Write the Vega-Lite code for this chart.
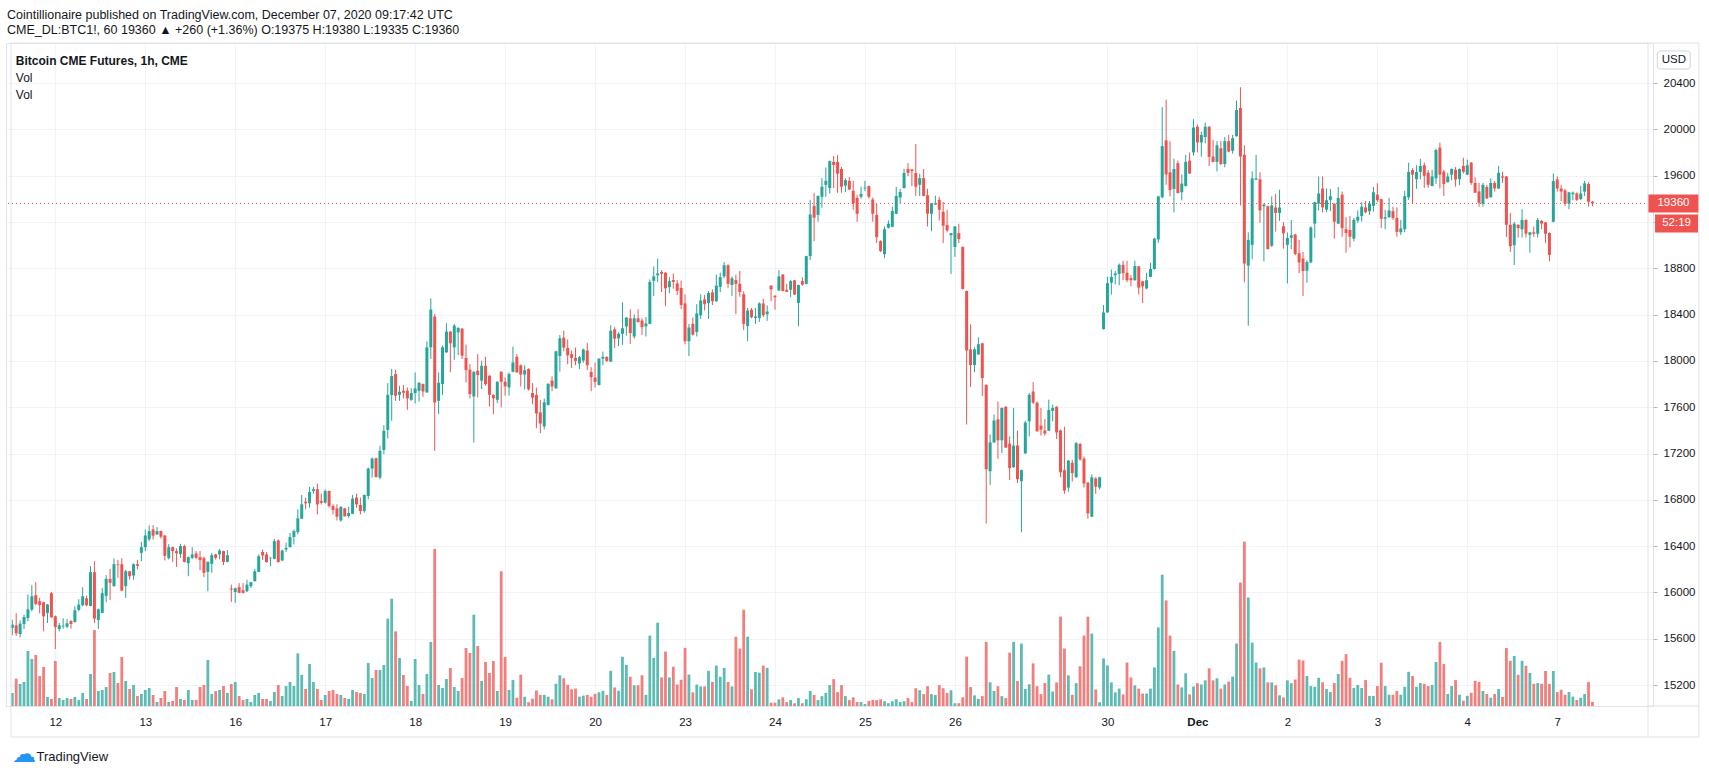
{
"$schema":"https://vega.github.io/schema/vega-lite/v6.json",
"width":1647,"height":663,
"autosize":{"type":"none"},
"padding":{"left":6,"top":43,"right":56,"bottom":65},
"background":"white",
"config":{"view":{"stroke":"#e0e3eb","strokeWidth":1},"font":"Liberation Sans"},
"title":{"text":"Cointillionaire published on TradingView.com, December 07, 2020 09:17:42 UTC","subtitle":"CME_DL:BTC1!, 60  19360 ▲ +260 (+1.36%)  O:19375  H:19380  L:19335  C:19360","anchor":"start","frame":"group","orient":"top","offset":6,"font":"Liberation Sans","fontSize":12.5,"fontWeight":"normal","color":"#131722","subtitleFont":"Liberation Sans","subtitleFontSize":12.5,"subtitleColor":"#131722","subtitlePadding":3,"dx":1},
"data":{"values":[
{"i":0,"o":15693,"h":15765,"l":15630,"c":15722,"v":195},
{"i":1,"o":15716,"h":15820,"l":15624,"c":15647,"v":410},
{"i":2,"o":15641,"h":15759,"l":15612,"c":15730,"v":330},
{"i":3,"o":15727,"h":15808,"l":15684,"c":15788,"v":360},
{"i":4,"o":15779,"h":15982,"l":15751,"c":15854,"v":825},
{"i":5,"o":15852,"h":16062,"l":15837,"c":15967,"v":705},
{"i":6,"o":15976,"h":16088,"l":15889,"c":15901,"v":765},
{"i":7,"o":15924,"h":15953,"l":15820,"c":15892,"v":450},
{"i":8,"o":15915,"h":15920,"l":15664,"c":15794,"v":585},
{"i":9,"o":15823,"h":15900,"l":15736,"c":15895,"v":135},
{"i":10,"o":15993,"h":16005,"l":15780,"c":15785,"v":105},
{"i":11,"o":15794,"h":15800,"l":15511,"c":15702,"v":675},
{"i":12,"o":15684,"h":15736,"l":15664,"c":15716,"v":120},
{"i":13,"o":15707,"h":15777,"l":15687,"c":15713,"v":90},
{"i":14,"o":15704,"h":15771,"l":15693,"c":15733,"v":120},
{"i":15,"o":15754,"h":15759,"l":15687,"c":15727,"v":105},
{"i":16,"o":15745,"h":15880,"l":15740,"c":15846,"v":135},
{"i":17,"o":15849,"h":15941,"l":15837,"c":15895,"v":90},
{"i":18,"o":15889,"h":16045,"l":15880,"c":15967,"v":195},
{"i":19,"o":15950,"h":15973,"l":15880,"c":15889,"v":105},
{"i":20,"o":15883,"h":16227,"l":15880,"c":16175,"v":480},
{"i":21,"o":16175,"h":16270,"l":15736,"c":15774,"v":1140},
{"i":22,"o":15762,"h":15860,"l":15684,"c":15854,"v":225},
{"i":23,"o":15823,"h":16039,"l":15820,"c":15993,"v":240},
{"i":24,"o":15970,"h":16149,"l":15915,"c":16117,"v":285},
{"i":25,"o":16117,"h":16204,"l":15935,"c":16083,"v":495},
{"i":26,"o":16054,"h":16293,"l":16050,"c":16244,"v":510},
{"i":27,"o":16244,"h":16282,"l":16126,"c":16238,"v":345},
{"i":28,"o":16244,"h":16296,"l":16010,"c":16016,"v":735},
{"i":29,"o":16054,"h":16195,"l":15953,"c":16183,"v":375},
{"i":30,"o":16183,"h":16186,"l":16111,"c":16140,"v":255},
{"i":31,"o":16146,"h":16250,"l":16109,"c":16244,"v":315},
{"i":32,"o":16244,"h":16282,"l":16198,"c":16230,"v":150},
{"i":33,"o":16342,"h":16437,"l":16270,"c":16391,"v":180},
{"i":34,"o":16391,"h":16544,"l":16357,"c":16492,"v":240},
{"i":35,"o":16458,"h":16579,"l":16443,"c":16530,"v":270},
{"i":36,"o":16544,"h":16582,"l":16458,"c":16490,"v":165},
{"i":37,"o":16501,"h":16565,"l":16498,"c":16530,"v":60},
{"i":38,"o":16530,"h":16535,"l":16464,"c":16481,"v":120},
{"i":39,"o":16492,"h":16495,"l":16276,"c":16316,"v":225},
{"i":40,"o":16296,"h":16417,"l":16285,"c":16391,"v":60},
{"i":41,"o":16391,"h":16395,"l":16264,"c":16357,"v":75},
{"i":42,"o":16357,"h":16380,"l":16221,"c":16339,"v":285},
{"i":43,"o":16331,"h":16420,"l":16299,"c":16400,"v":105},
{"i":44,"o":16400,"h":16412,"l":16258,"c":16264,"v":90},
{"i":45,"o":16253,"h":16310,"l":16140,"c":16305,"v":240},
{"i":46,"o":16299,"h":16391,"l":16287,"c":16328,"v":90},
{"i":47,"o":16336,"h":16357,"l":16287,"c":16299,"v":90},
{"i":48,"o":16305,"h":16357,"l":16192,"c":16279,"v":285},
{"i":49,"o":16296,"h":16310,"l":16132,"c":16169,"v":315},
{"i":50,"o":16178,"h":16268,"l":16010,"c":16264,"v":690},
{"i":51,"o":16247,"h":16342,"l":16169,"c":16322,"v":180},
{"i":52,"o":16328,"h":16334,"l":16284,"c":16299,"v":225},
{"i":53,"o":16328,"h":16374,"l":16287,"c":16362,"v":240},
{"i":54,"o":16357,"h":16360,"l":16236,"c":16264,"v":300},
{"i":55,"o":16264,"h":16365,"l":16260,"c":16322,"v":195},
{"i":56,"o":16033,"h":16068,"l":15918,"c":16025,"v":330},
{"i":57,"o":16004,"h":16040,"l":15909,"c":16036,"v":360},
{"i":58,"o":16045,"h":16080,"l":15993,"c":15996,"v":150},
{"i":59,"o":16019,"h":16080,"l":15990,"c":15996,"v":90},
{"i":60,"o":16010,"h":16109,"l":16004,"c":16068,"v":105},
{"i":61,"o":16054,"h":16092,"l":16039,"c":16088,"v":60},
{"i":62,"o":16097,"h":16204,"l":16094,"c":16183,"v":165},
{"i":63,"o":16178,"h":16328,"l":16175,"c":16313,"v":195},
{"i":64,"o":16350,"h":16370,"l":16280,"c":16320,"v":105},
{"i":65,"o":16328,"h":16348,"l":16258,"c":16262,"v":105},
{"i":66,"o":16295,"h":16304,"l":16227,"c":16300,"v":75},
{"i":67,"o":16290,"h":16463,"l":16286,"c":16443,"v":210},
{"i":68,"o":16449,"h":16458,"l":16258,"c":16262,"v":315},
{"i":69,"o":16276,"h":16371,"l":16270,"c":16362,"v":150},
{"i":70,"o":16371,"h":16429,"l":16348,"c":16385,"v":300},
{"i":71,"o":16391,"h":16515,"l":16388,"c":16478,"v":360},
{"i":72,"o":16478,"h":16544,"l":16414,"c":16530,"v":300},
{"i":73,"o":16521,"h":16718,"l":16501,"c":16640,"v":790},
{"i":74,"o":16637,"h":16842,"l":16634,"c":16761,"v":465},
{"i":75,"o":16784,"h":16819,"l":16718,"c":16770,"v":255},
{"i":76,"o":16770,"h":16911,"l":16732,"c":16868,"v":630},
{"i":77,"o":16876,"h":16911,"l":16853,"c":16891,"v":360},
{"i":78,"o":16891,"h":16940,"l":16674,"c":16761,"v":255},
{"i":79,"o":16790,"h":16853,"l":16761,"c":16775,"v":90},
{"i":80,"o":16775,"h":16891,"l":16767,"c":16876,"v":165},
{"i":81,"o":16876,"h":16880,"l":16732,"c":16746,"v":225},
{"i":82,"o":16746,"h":16761,"l":16674,"c":16712,"v":240},
{"i":83,"o":16726,"h":16761,"l":16622,"c":16654,"v":180},
{"i":84,"o":16622,"h":16747,"l":16611,"c":16738,"v":165},
{"i":85,"o":16726,"h":16730,"l":16654,"c":16658,"v":120},
{"i":86,"o":16660,"h":16738,"l":16645,"c":16686,"v":105},
{"i":87,"o":16680,"h":16842,"l":16676,"c":16810,"v":240},
{"i":88,"o":16819,"h":16853,"l":16732,"c":16761,"v":210},
{"i":89,"o":16755,"h":16819,"l":16674,"c":16703,"v":195},
{"i":90,"o":16703,"h":16845,"l":16689,"c":16842,"v":180},
{"i":91,"o":16833,"h":17078,"l":16804,"c":17070,"v":645},
{"i":92,"o":17070,"h":17165,"l":16992,"c":17156,"v":420},
{"i":93,"o":17159,"h":17165,"l":16992,"c":16997,"v":540},
{"i":94,"o":16992,"h":17266,"l":16977,"c":17223,"v":540},
{"i":95,"o":17231,"h":17445,"l":17194,"c":17396,"v":615},
{"i":96,"o":17404,"h":17808,"l":17329,"c":17707,"v":1310},
{"i":97,"o":17705,"h":17930,"l":17482,"c":17869,"v":1610},
{"i":98,"o":17886,"h":17924,"l":17655,"c":17699,"v":1120},
{"i":99,"o":17707,"h":17785,"l":17655,"c":17733,"v":720},
{"i":100,"o":17742,"h":17791,"l":17676,"c":17725,"v":465},
{"i":101,"o":17742,"h":17771,"l":17578,"c":17676,"v":300},
{"i":102,"o":17664,"h":17765,"l":17655,"c":17722,"v":75},
{"i":103,"o":17722,"h":17901,"l":17632,"c":17762,"v":705},
{"i":104,"o":17742,"h":17815,"l":17647,"c":17811,"v":315},
{"i":105,"o":17800,"h":17805,"l":17690,"c":17736,"v":180},
{"i":106,"o":17728,"h":18169,"l":17725,"c":18117,"v":480},
{"i":107,"o":18117,"h":18539,"l":18016,"c":18443,"v":960},
{"i":108,"o":18383,"h":18406,"l":17223,"c":17641,"v":2355},
{"i":109,"o":17655,"h":17901,"l":17540,"c":17811,"v":315},
{"i":110,"o":17800,"h":18132,"l":17705,"c":18117,"v":270},
{"i":111,"o":18074,"h":18325,"l":18070,"c":18253,"v":405},
{"i":112,"o":18253,"h":18258,"l":17901,"c":18152,"v":570},
{"i":113,"o":18117,"h":18319,"l":18010,"c":18305,"v":285},
{"i":114,"o":18247,"h":18290,"l":18051,"c":18285,"v":225},
{"i":115,"o":18279,"h":18283,"l":18016,"c":18045,"v":420},
{"i":116,"o":18025,"h":18140,"l":17814,"c":17921,"v":870},
{"i":117,"o":17924,"h":17973,"l":17676,"c":17713,"v":795},
{"i":118,"o":17693,"h":17910,"l":17295,"c":17906,"v":1370},
{"i":119,"o":17915,"h":18059,"l":17684,"c":17878,"v":900},
{"i":120,"o":17829,"h":18002,"l":17756,"c":17958,"v":375},
{"i":121,"o":17958,"h":18036,"l":17785,"c":17800,"v":660},
{"i":122,"o":17872,"h":17876,"l":17606,"c":17707,"v":495},
{"i":123,"o":17707,"h":17711,"l":17540,"c":17676,"v":675},
{"i":124,"o":17664,"h":17824,"l":17635,"c":17820,"v":225},
{"i":125,"o":17906,"h":17910,"l":17598,"c":17820,"v":2020},
{"i":126,"o":17820,"h":17857,"l":17700,"c":17780,"v":735},
{"i":127,"o":17771,"h":17901,"l":17699,"c":17886,"v":240},
{"i":128,"o":17906,"h":18123,"l":17902,"c":17987,"v":390},
{"i":129,"o":18036,"h":18059,"l":17898,"c":17901,"v":125},
{"i":130,"o":17962,"h":17970,"l":17779,"c":17882,"v":470},
{"i":131,"o":17882,"h":17962,"l":17754,"c":17920,"v":139},
{"i":132,"o":17930,"h":17936,"l":17744,"c":17754,"v":56},
{"i":133,"o":17722,"h":17808,"l":17625,"c":17683,"v":111},
{"i":134,"o":17706,"h":17770,"l":17418,"c":17546,"v":233},
{"i":135,"o":17555,"h":17664,"l":17376,"c":17459,"v":167},
{"i":136,"o":17434,"h":17674,"l":17408,"c":17642,"v":167},
{"i":137,"o":17619,"h":17806,"l":17615,"c":17802,"v":139},
{"i":138,"o":17830,"h":17866,"l":17738,"c":17779,"v":100},
{"i":139,"o":17763,"h":18087,"l":17759,"c":18083,"v":333},
{"i":140,"o":18042,"h":18224,"l":17907,"c":18195,"v":461},
{"i":141,"o":18201,"h":18262,"l":18083,"c":18115,"v":417},
{"i":142,"o":18112,"h":18186,"l":17971,"c":18048,"v":317},
{"i":143,"o":18058,"h":18090,"l":17939,"c":18026,"v":250},
{"i":144,"o":18026,"h":18115,"l":17962,"c":18000,"v":261},
{"i":145,"o":17978,"h":18042,"l":17930,"c":18032,"v":139},
{"i":146,"o":18003,"h":18106,"l":17984,"c":18099,"v":156},
{"i":147,"o":18090,"h":18154,"l":17920,"c":17962,"v":167},
{"i":148,"o":17904,"h":17946,"l":17738,"c":17859,"v":139},
{"i":149,"o":17856,"h":17984,"l":17770,"c":17818,"v":183},
{"i":150,"o":17792,"h":18023,"l":17788,"c":18019,"v":206},
{"i":151,"o":18019,"h":18080,"l":17962,"c":18035,"v":228},
{"i":152,"o":18035,"h":18039,"l":17990,"c":18000,"v":167},
{"i":153,"o":17994,"h":18308,"l":17990,"c":18260,"v":528},
{"i":154,"o":18272,"h":18291,"l":18112,"c":18192,"v":278},
{"i":155,"o":18195,"h":18246,"l":18128,"c":18234,"v":228},
{"i":156,"o":18234,"h":18506,"l":18138,"c":18282,"v":739},
{"i":157,"o":18298,"h":18378,"l":18218,"c":18374,"v":617},
{"i":158,"o":18368,"h":18445,"l":18147,"c":18240,"v":439},
{"i":159,"o":18211,"h":18403,"l":18192,"c":18368,"v":311},
{"i":160,"o":18368,"h":18445,"l":18330,"c":18336,"v":311},
{"i":161,"o":18349,"h":18368,"l":18224,"c":18291,"v":461},
{"i":162,"o":18298,"h":18378,"l":18211,"c":18323,"v":167},
{"i":163,"o":18320,"h":18704,"l":18316,"c":18682,"v":1056},
{"i":164,"o":18692,"h":18816,"l":18560,"c":18730,"v":722},
{"i":165,"o":18739,"h":18883,"l":18682,"c":18755,"v":1250},
{"i":166,"o":18768,"h":18784,"l":18595,"c":18752,"v":428},
{"i":167,"o":18762,"h":18766,"l":18474,"c":18627,"v":817},
{"i":168,"o":18637,"h":18723,"l":18585,"c":18688,"v":428},
{"i":169,"o":18698,"h":18755,"l":18624,"c":18682,"v":589},
{"i":170,"o":18669,"h":18698,"l":18570,"c":18605,"v":322},
{"i":171,"o":18630,"h":18694,"l":18448,"c":18483,"v":394},
{"i":172,"o":18496,"h":18573,"l":18144,"c":18170,"v":872},
{"i":173,"o":18170,"h":18320,"l":18042,"c":18288,"v":472},
{"i":174,"o":18320,"h":18374,"l":18218,"c":18227,"v":206},
{"i":175,"o":18250,"h":18490,"l":18211,"c":18410,"v":322},
{"i":176,"o":18394,"h":18576,"l":18362,"c":18522,"v":294},
{"i":177,"o":18531,"h":18570,"l":18435,"c":18490,"v":294},
{"i":178,"o":18499,"h":18602,"l":18362,"c":18586,"v":528},
{"i":179,"o":18592,"h":18618,"l":18483,"c":18515,"v":361},
{"i":180,"o":18515,"h":18746,"l":18511,"c":18650,"v":606},
{"i":181,"o":18640,"h":18762,"l":18595,"c":18723,"v":439},
{"i":182,"o":18730,"h":18854,"l":18714,"c":18826,"v":572},
{"i":183,"o":18826,"h":18835,"l":18627,"c":18666,"v":361},
{"i":184,"o":18656,"h":18730,"l":18560,"c":18714,"v":294},
{"i":185,"o":18698,"h":18746,"l":18403,"c":18666,"v":1039},
{"i":186,"o":18666,"h":18778,"l":18554,"c":18595,"v":861},
{"i":187,"o":18576,"h":18602,"l":18266,"c":18320,"v":1444},
{"i":188,"o":18301,"h":18458,"l":18170,"c":18435,"v":1039},
{"i":189,"o":18442,"h":18458,"l":18368,"c":18378,"v":250},
{"i":190,"o":18371,"h":18458,"l":18320,"c":18384,"v":511},
{"i":191,"o":18371,"h":18506,"l":18336,"c":18496,"v":500},
{"i":192,"o":18496,"h":18538,"l":18378,"c":18394,"v":606},
{"i":193,"o":18403,"h":18480,"l":18346,"c":18426,"v":572},
{"i":194,"o":18650,"h":18654,"l":18515,"c":18618,"v":50},
{"i":195,"o":18563,"h":18567,"l":18442,"c":18550,"v":50},
{"i":196,"o":18608,"h":18784,"l":18604,"c":18730,"v":100},
{"i":197,"o":18746,"h":18750,"l":18600,"c":18604,"v":130},
{"i":198,"o":18614,"h":18665,"l":18594,"c":18597,"v":59},
{"i":199,"o":18614,"h":18700,"l":18552,"c":18689,"v":89},
{"i":200,"o":18696,"h":18700,"l":18570,"c":18573,"v":42},
{"i":201,"o":18501,"h":18659,"l":18299,"c":18655,"v":119},
{"i":202,"o":18689,"h":18723,"l":18648,"c":18659,"v":42},
{"i":203,"o":18665,"h":18909,"l":18661,"c":18905,"v":101},
{"i":204,"o":18905,"h":19391,"l":18871,"c":19264,"v":225},
{"i":205,"o":19339,"h":19452,"l":19035,"c":19237,"v":166},
{"i":206,"o":19261,"h":19429,"l":19203,"c":19425,"v":89},
{"i":207,"o":19418,"h":19579,"l":19322,"c":19504,"v":148},
{"i":208,"o":19521,"h":19671,"l":19418,"c":19555,"v":196},
{"i":209,"o":19493,"h":19730,"l":19445,"c":19726,"v":314},
{"i":210,"o":19719,"h":19770,"l":19493,"c":19692,"v":403},
{"i":211,"o":19719,"h":19777,"l":19452,"c":19617,"v":208},
{"i":212,"o":19658,"h":19675,"l":19452,"c":19504,"v":314},
{"i":213,"o":19514,"h":19579,"l":19459,"c":19562,"v":148},
{"i":214,"o":19555,"h":19589,"l":19476,"c":19480,"v":89},
{"i":215,"o":19469,"h":19555,"l":19305,"c":19360,"v":130},
{"i":216,"o":19408,"h":19435,"l":19202,"c":19271,"v":59},
{"i":217,"o":19418,"h":19504,"l":19401,"c":19442,"v":59},
{"i":218,"o":19490,"h":19555,"l":19469,"c":19497,"v":30},
{"i":219,"o":19510,"h":19514,"l":19401,"c":19418,"v":77},
{"i":220,"o":19394,"h":19411,"l":19202,"c":19271,"v":89},
{"i":221,"o":19261,"h":19356,"l":19018,"c":19069,"v":89},
{"i":222,"o":19035,"h":19042,"l":18939,"c":18949,"v":101},
{"i":223,"o":18922,"h":19161,"l":18888,"c":19137,"v":71},
{"i":224,"o":19151,"h":19213,"l":19144,"c":19185,"v":42},
{"i":225,"o":19158,"h":19332,"l":19154,"c":19295,"v":71},
{"i":226,"o":19271,"h":19504,"l":19267,"c":19425,"v":101},
{"i":227,"o":19411,"h":19487,"l":19356,"c":19459,"v":59},
{"i":228,"o":19493,"h":19658,"l":19489,"c":19623,"v":71},
{"i":229,"o":19658,"h":19709,"l":19596,"c":19623,"v":119},
{"i":230,"o":19654,"h":19658,"l":19510,"c":19640,"v":59},
{"i":231,"o":19623,"h":19873,"l":19425,"c":19504,"v":267},
{"i":232,"o":19521,"h":19617,"l":19425,"c":19579,"v":237},
{"i":233,"o":19579,"h":19658,"l":19421,"c":19425,"v":178},
{"i":234,"o":19432,"h":19487,"l":19161,"c":19271,"v":297},
{"i":235,"o":19271,"h":19364,"l":19120,"c":19360,"v":178},
{"i":236,"o":19350,"h":19428,"l":19346,"c":19360,"v":166},
{"i":237,"o":19391,"h":19418,"l":19213,"c":19305,"v":314},
{"i":238,"o":19288,"h":19373,"l":19018,"c":19168,"v":267},
{"i":239,"o":19175,"h":19305,"l":19110,"c":19127,"v":196},
{"i":240,"o":19086,"h":19107,"l":18751,"c":19103,"v":237},
{"i":241,"o":18984,"h":19165,"l":18898,"c":19161,"v":42},
{"i":242,"o":19103,"h":19185,"l":19018,"c":19052,"v":42},
{"i":243,"o":18984,"h":18990,"l":18617,"c":18621,"v":130},
{"i":244,"o":18604,"h":18608,"l":17450,"c":18090,"v":741},
{"i":245,"o":18100,"h":18316,"l":17775,"c":17964,"v":285},
{"i":246,"o":17964,"h":18117,"l":17902,"c":18100,"v":160},
{"i":247,"o":18056,"h":18203,"l":18052,"c":18144,"v":107},
{"i":248,"o":18152,"h":18156,"l":17697,"c":17851,"v":148},
{"i":249,"o":17793,"h":17797,"l":16595,"c":17064,"v":961},
{"i":250,"o":17047,"h":17365,"l":16927,"c":17296,"v":356},
{"i":251,"o":17296,"h":17536,"l":17292,"c":17485,"v":225},
{"i":252,"o":17495,"h":17649,"l":17153,"c":17314,"v":297},
{"i":253,"o":17314,"h":17598,"l":17204,"c":17594,"v":148},
{"i":254,"o":17604,"h":17608,"l":17248,"c":17252,"v":119},
{"i":255,"o":17286,"h":17348,"l":16971,"c":17074,"v":801},
{"i":256,"o":17081,"h":17594,"l":17077,"c":17269,"v":961},
{"i":257,"o":17269,"h":17399,"l":16944,"c":16978,"v":374},
{"i":258,"o":16961,"h":17061,"l":16520,"c":17057,"v":937},
{"i":259,"o":17201,"h":17482,"l":17197,"c":17468,"v":255},
{"i":260,"o":17478,"h":17724,"l":17348,"c":17707,"v":326},
{"i":261,"o":17735,"h":17817,"l":17628,"c":17639,"v":640},
{"i":262,"o":17639,"h":17649,"l":17388,"c":17392,"v":297},
{"i":263,"o":17440,"h":17594,"l":17355,"c":17406,"v":178},
{"i":264,"o":17399,"h":17497,"l":17354,"c":17373,"v":344},
{"i":265,"o":17397,"h":17665,"l":17393,"c":17576,"v":472},
{"i":266,"o":17569,"h":17622,"l":17479,"c":17594,"v":217},
{"i":267,"o":17604,"h":17608,"l":17325,"c":17382,"v":354},
{"i":268,"o":17400,"h":17407,"l":16995,"c":17038,"v":1341},
{"i":269,"o":17056,"h":17432,"l":16852,"c":16880,"v":863},
{"i":270,"o":16905,"h":17145,"l":16870,"c":17138,"v":460},
{"i":271,"o":17120,"h":17145,"l":16959,"c":17031,"v":168},
{"i":272,"o":16995,"h":17300,"l":16991,"c":17289,"v":342},
{"i":273,"o":17282,"h":17293,"l":17138,"c":17149,"v":596},
{"i":274,"o":17156,"h":17174,"l":16906,"c":16941,"v":1056},
{"i":275,"o":16949,"h":16953,"l":16637,"c":16683,"v":1341},
{"i":276,"o":16655,"h":17020,"l":16651,"c":16995,"v":1087},
{"i":277,"o":16984,"h":16995,"l":16852,"c":16913,"v":248},
{"i":278,"o":16906,"h":16999,"l":16888,"c":16995,"v":56},
{"i":279,"o":18275,"h":18483,"l":18271,"c":18418,"v":714},
{"i":280,"o":18419,"h":18726,"l":18415,"c":18672,"v":609},
{"i":281,"o":18675,"h":18790,"l":18572,"c":18726,"v":354},
{"i":282,"o":18740,"h":18776,"l":18662,"c":18755,"v":205},
{"i":283,"o":18751,"h":18841,"l":18654,"c":18830,"v":261},
{"i":284,"o":18830,"h":18866,"l":18697,"c":18758,"v":174},
{"i":285,"o":18762,"h":18866,"l":18679,"c":18697,"v":652},
{"i":286,"o":18715,"h":18740,"l":18644,"c":18697,"v":428},
{"i":287,"o":18697,"h":18866,"l":18693,"c":18819,"v":310},
{"i":288,"o":18816,"h":18820,"l":18572,"c":18633,"v":261},
{"i":289,"o":18687,"h":18691,"l":18500,"c":18644,"v":186},
{"i":290,"o":18626,"h":18762,"l":18619,"c":18697,"v":186},
{"i":291,"o":18726,"h":18848,"l":18723,"c":18794,"v":261},
{"i":292,"o":18794,"h":19063,"l":18787,"c":19056,"v":578},
{"i":293,"o":19049,"h":19425,"l":19020,"c":19421,"v":1180},
{"i":294,"o":19414,"h":20192,"l":19404,"c":19855,"v":1969},
{"i":295,"o":19905,"h":20257,"l":19522,"c":19611,"v":1584},
{"i":296,"o":19629,"h":19898,"l":19421,"c":19475,"v":1056},
{"i":297,"o":19486,"h":19747,"l":19282,"c":19658,"v":826},
{"i":298,"o":19708,"h":19730,"l":19446,"c":19450,"v":323},
{"i":299,"o":19457,"h":19611,"l":19386,"c":19532,"v":279},
{"i":300,"o":19511,"h":19780,"l":19507,"c":19719,"v":491},
{"i":301,"o":19730,"h":19801,"l":19615,"c":19619,"v":174},
{"i":302,"o":19801,"h":20088,"l":19773,"c":20016,"v":292},
{"i":303,"o":20023,"h":20041,"l":19801,"c":19887,"v":342},
{"i":304,"o":19887,"h":19980,"l":19765,"c":19952,"v":323},
{"i":305,"o":19934,"h":20059,"l":19880,"c":20023,"v":385},
{"i":306,"o":20023,"h":20027,"l":19683,"c":19762,"v":565},
{"i":307,"o":19765,"h":19909,"l":19715,"c":19719,"v":385},
{"i":308,"o":19719,"h":19898,"l":19636,"c":19862,"v":416},
{"i":309,"o":19837,"h":19898,"l":19690,"c":19701,"v":261},
{"i":310,"o":19701,"h":19934,"l":19672,"c":19898,"v":323},
{"i":311,"o":19898,"h":19952,"l":19801,"c":19808,"v":366},
{"i":312,"o":19815,"h":19952,"l":19790,"c":19923,"v":441},
{"i":313,"o":19941,"h":20249,"l":19937,"c":20167,"v":938},
{"i":314,"o":20185,"h":20364,"l":19343,"c":19766,"v":1851},
{"i":315,"o":19780,"h":19862,"l":18679,"c":18841,"v":2465},
{"i":316,"o":18823,"h":19110,"l":18303,"c":19045,"v":1627},
{"i":317,"o":19002,"h":19637,"l":18877,"c":19576,"v":950},
{"i":318,"o":19565,"h":19780,"l":19561,"c":19576,"v":652},
{"i":319,"o":19568,"h":19629,"l":19192,"c":19300,"v":565},
{"i":320,"o":19335,"h":19360,"l":18859,"c":19350,"v":578},
{"i":321,"o":19336,"h":19340,"l":18962,"c":18966,"v":354},
{"i":322,"o":18995,"h":19421,"l":18984,"c":19343,"v":354},
{"i":323,"o":19325,"h":19443,"l":19117,"c":19278,"v":310},
{"i":324,"o":19278,"h":19479,"l":19210,"c":19325,"v":161},
{"i":325,"o":19163,"h":19199,"l":18970,"c":19102,"v":130},
{"i":326,"o":19002,"h":19110,"l":18669,"c":19063,"v":385},
{"i":327,"o":19063,"h":19217,"l":18966,"c":19085,"v":342},
{"i":328,"o":19092,"h":19099,"l":18912,"c":18923,"v":397},
{"i":329,"o":18930,"h":19045,"l":18758,"c":18851,"v":696},
{"i":330,"o":18884,"h":18941,"l":18561,"c":18776,"v":683},
{"i":331,"o":18779,"h":18870,"l":18675,"c":18854,"v":451},
{"i":332,"o":18851,"h":19163,"l":18844,"c":19153,"v":299},
{"i":333,"o":19186,"h":19375,"l":19062,"c":19371,"v":288},
{"i":334,"o":19358,"h":19593,"l":19300,"c":19446,"v":423},
{"i":335,"o":19489,"h":19593,"l":19284,"c":19326,"v":355},
{"i":336,"o":19306,"h":19489,"l":19284,"c":19388,"v":254},
{"i":337,"o":19391,"h":19485,"l":19293,"c":19423,"v":209},
{"i":338,"o":19358,"h":19362,"l":19056,"c":19202,"v":344},
{"i":339,"o":19186,"h":19502,"l":19182,"c":19407,"v":479},
{"i":340,"o":19436,"h":19463,"l":19072,"c":19147,"v":677},
{"i":341,"o":19137,"h":19241,"l":18935,"c":19105,"v":778},
{"i":342,"o":19131,"h":19251,"l":18981,"c":19072,"v":423},
{"i":343,"o":19056,"h":19235,"l":19033,"c":19218,"v":271},
{"i":344,"o":19212,"h":19300,"l":19192,"c":19245,"v":316},
{"i":345,"o":19251,"h":19371,"l":19202,"c":19332,"v":271},
{"i":346,"o":19326,"h":19381,"l":19274,"c":19284,"v":389},
{"i":347,"o":19293,"h":19381,"l":19261,"c":19358,"v":152},
{"i":348,"o":19339,"h":19502,"l":19290,"c":19456,"v":152},
{"i":349,"o":19436,"h":19534,"l":19371,"c":19388,"v":299},
{"i":350,"o":19397,"h":19401,"l":19147,"c":19228,"v":649},
{"i":351,"o":19228,"h":19306,"l":19137,"c":19241,"v":299},
{"i":352,"o":19241,"h":19407,"l":19237,"c":19300,"v":169},
{"i":353,"o":19293,"h":19332,"l":19218,"c":19235,"v":169},
{"i":354,"o":19235,"h":19326,"l":19072,"c":19114,"v":226},
{"i":355,"o":19111,"h":19218,"l":19088,"c":19144,"v":169},
{"i":356,"o":19137,"h":19469,"l":19111,"c":19423,"v":288},
{"i":357,"o":19414,"h":19713,"l":19391,"c":19632,"v":513},
{"i":358,"o":19648,"h":19664,"l":19358,"c":19609,"v":451},
{"i":359,"o":19570,"h":19690,"l":19486,"c":19632,"v":288},
{"i":360,"o":19632,"h":19746,"l":19567,"c":19684,"v":344},
{"i":361,"o":19690,"h":19713,"l":19495,"c":19599,"v":333},
{"i":362,"o":19625,"h":19648,"l":19495,"c":19521,"v":299},
{"i":363,"o":19511,"h":19651,"l":19507,"c":19593,"v":316},
{"i":364,"o":19577,"h":19834,"l":19528,"c":19821,"v":660},
{"i":365,"o":19843,"h":19886,"l":19489,"c":19609,"v":959},
{"i":366,"o":19635,"h":19651,"l":19424,"c":19528,"v":632},
{"i":367,"o":19544,"h":19625,"l":19540,"c":19593,"v":180},
{"i":368,"o":19609,"h":19662,"l":19560,"c":19658,"v":299},
{"i":369,"o":19651,"h":19674,"l":19505,"c":19567,"v":389},
{"i":370,"o":19570,"h":19662,"l":19518,"c":19658,"v":169},
{"i":371,"o":19684,"h":19755,"l":19619,"c":19632,"v":79},
{"i":372,"o":19609,"h":19739,"l":19605,"c":19690,"v":152},
{"i":373,"o":19713,"h":19717,"l":19521,"c":19537,"v":197},
{"i":374,"o":19537,"h":19586,"l":19449,"c":19453,"v":378},
{"i":375,"o":19463,"h":19537,"l":19332,"c":19365,"v":361},
{"i":376,"o":19358,"h":19537,"l":19332,"c":19521,"v":226},
{"i":377,"o":19502,"h":19521,"l":19397,"c":19404,"v":180},
{"i":378,"o":19414,"h":19577,"l":19410,"c":19537,"v":124},
{"i":379,"o":19537,"h":19554,"l":19463,"c":19489,"v":180},
{"i":380,"o":19489,"h":19684,"l":19485,"c":19625,"v":254},
{"i":381,"o":19593,"h":19632,"l":19537,"c":19583,"v":135},
{"i":382,"o":19593,"h":19597,"l":19072,"c":19176,"v":869},
{"i":383,"o":19176,"h":19277,"l":18942,"c":18991,"v":677},
{"i":384,"o":19000,"h":19202,"l":18828,"c":19186,"v":750},
{"i":385,"o":19176,"h":19180,"l":19065,"c":19147,"v":468},
{"i":386,"o":19137,"h":19310,"l":19065,"c":19218,"v":677},
{"i":387,"o":19218,"h":19222,"l":19065,"c":19098,"v":603},
{"i":388,"o":19088,"h":19115,"l":18935,"c":19111,"v":496},
{"i":389,"o":19111,"h":19160,"l":19072,"c":19098,"v":333},
{"i":390,"o":19098,"h":19235,"l":19065,"c":19218,"v":344},
{"i":391,"o":19209,"h":19218,"l":19137,"c":19186,"v":333},
{"i":392,"o":19196,"h":19200,"l":19017,"c":19098,"v":525},
{"i":393,"o":19105,"h":19111,"l":18861,"c":18916,"v":333},
{"i":394,"o":19202,"h":19619,"l":19198,"c":19554,"v":525},
{"i":395,"o":19567,"h":19593,"l":19463,"c":19489,"v":209},
{"i":396,"o":19489,"h":19521,"l":19381,"c":19463,"v":243},
{"i":397,"o":19472,"h":19485,"l":19339,"c":19358,"v":169},
{"i":398,"o":19358,"h":19460,"l":19310,"c":19456,"v":209},
{"i":399,"o":19440,"h":19463,"l":19388,"c":19453,"v":141},
{"i":400,"o":19446,"h":19456,"l":19381,"c":19391,"v":90},
{"i":401,"o":19398,"h":19511,"l":19388,"c":19446,"v":124},
{"i":402,"o":19463,"h":19554,"l":19424,"c":19534,"v":180},
{"i":403,"o":19528,"h":19544,"l":19332,"c":19375,"v":361},
{"i":404,"o":19375,"h":19380,"l":19335,"c":19360,"v":62}
]},
"resolve":{"scale":{"y":"independent"},"axis":{"y":"independent"}},
"layer":[
{"mark":{"type":"bar","width":2.8},
 "encoding":{
  "x":{"field":"i","type":"quantitative","title":"TradingView","scale":{"domain":[-0.33,418.2],"nice":false,"zero":false},
   "axis":{"values":[11,34,57,80,103,126,149,172,195,218,241,280,303,326,349,372,395],
    "labelExpr":"datum.value==11?'12':datum.value==34?'13':datum.value==57?'16':datum.value==80?'17':datum.value==103?'18':datum.value==126?'19':datum.value==149?'20':datum.value==172?'23':datum.value==195?'24':datum.value==218?'25':datum.value==241?'26':datum.value==280?'30':datum.value==303?'Dec':datum.value==326?'2':datum.value==349?'3':datum.value==372?'4':'7'",
    "grid":true,"gridColor":"#f0f3fa","gridWidth":1,"domain":false,"ticks":false,"tickSize":0,"labelPadding":10,"labelFontSize":11.5,"labelFont":"Liberation Sans","labelColor":"#131722","labelFlush":false,"labelOverlap":false,
    "labelFontWeight":{"condition":{"test":"datum.value == 303","value":"bold"},"value":"normal"},
    "titleX":30,"titleY":50,"titleAlign":"left","titleAnchor":"start","titleBaseline":"middle","titleFontSize":13,"titleFontWeight":"normal","titleColor":"#131722","titleFont":"Liberation Sans"}},
  "y":{"field":"v","type":"quantitative","scale":{"domain":[0,9945],"nice":false,"zero":true},"axis":null},
  "color":{"condition":{"test":"datum.c >= datum.o","value":"#5cbcb3"},"value":"#f37e7c"}}},
{"layer":[
 {"mark":{"type":"rule","strokeWidth":1},
  "encoding":{
   "x":{"field":"i","type":"quantitative","title":"TradingView","scale":{"domain":[-0.33,418.2],"nice":false,"zero":false}},
   "y":{"field":"l","type":"quantitative","title":null,"scale":{"domain":[15019,20746],"nice":false,"zero":false},
    "axis":{"orient":"right","values":[15200,15600,16000,16400,16800,17200,17600,18000,18400,18800,19200,19600,20000,20400],"format":"d","labelExpr":"datum.value == 19200 ? '' : datum.label","grid":true,"gridColor":"#f0f3fa","domain":false,"ticks":true,"tickSize":4,"tickColor":"#b2b5be","labelPadding":6,"labelFontSize":11.5,"labelFont":"Liberation Sans","labelColor":"#131722"}},
   "y2":{"field":"h"},
   "color":{"condition":{"test":"datum.c >= datum.o","value":"#26a69a"},"value":"#ef5350"}}},
 {"mark":{"type":"bar","width":3},
  "encoding":{
   "x":{"field":"i","type":"quantitative","title":"TradingView","scale":{"domain":[-0.33,418.2],"nice":false,"zero":false}},
   "y":{"field":"o","type":"quantitative","title":null,"scale":{"domain":[15019,20746],"nice":false,"zero":false}},
   "y2":{"field":"c"},
   "color":{"condition":{"test":"datum.c >= datum.o","value":"#26a69a"},"value":"#ef5350"}}},
 {"transform":[{"filter":"datum.i == 404"}],
  "mark":{"type":"rule","color":"#ef5350","strokeDash":[1,3],"strokeWidth":1},
  "encoding":{"y":{"field":"c","type":"quantitative","title":null,"scale":{"domain":[15019,20746],"nice":false,"zero":false}}}},
 {"transform":[{"filter":"datum.i == 404"}],
  "mark":{"type":"rect","width":51,"height":18,"color":"#ef5350"},
  "encoding":{"x":{"datum":424.7,"title":"TradingView","scale":{"domain":[-0.33,418.2],"nice":false,"zero":false}},"y":{"field":"c","type":"quantitative","title":null,"scale":{"domain":[15019,20746],"nice":false,"zero":false}}}},
 {"transform":[{"filter":"datum.i == 404"}],
  "mark":{"type":"text","color":"white","fontSize":11.5,"font":"Liberation Sans","align":"center","baseline":"middle"},
  "encoding":{"x":{"datum":424.7,"title":"TradingView","scale":{"domain":[-0.33,418.2],"nice":false,"zero":false}},"y":{"field":"c","type":"quantitative","title":null,"scale":{"domain":[15019,20746],"nice":false,"zero":false}},"text":{"field":"c","type":"quantitative","format":"d"}}},
 {"transform":[{"filter":"datum.i == 404"}],
  "mark":{"type":"rect","width":43,"height":18,"color":"#ef5350","yOffset":20},
  "encoding":{"x":{"datum":425.5,"title":"TradingView","scale":{"domain":[-0.33,418.2],"nice":false,"zero":false}},"y":{"field":"c","type":"quantitative","title":null,"scale":{"domain":[15019,20746],"nice":false,"zero":false}}}},
 {"transform":[{"filter":"datum.i == 404"}],
  "mark":{"type":"text","color":"white","fontSize":11.5,"font":"Liberation Sans","align":"center","baseline":"middle","yOffset":20},
  "encoding":{"x":{"datum":425.5,"title":"TradingView","scale":{"domain":[-0.33,418.2],"nice":false,"zero":false}},"y":{"field":"c","type":"quantitative","title":null,"scale":{"domain":[15019,20746],"nice":false,"zero":false}},"text":{"value":"52:19"}}},
 {"data":{"values":[{"t":"USD"}]},
  "mark":{"type":"rect","width":33,"height":18,"fill":"white","stroke":"#d1d4dc","strokeWidth":1,"cornerRadius":3},
  "encoding":{"x":{"datum":424.8,"title":"TradingView","scale":{"domain":[-0.33,418.2],"nice":false,"zero":false}},"y":{"datum":20599,"title":null,"scale":{"domain":[15019,20746],"nice":false,"zero":false}}}},
 {"data":{"values":[{"t":"USD"}]},
  "mark":{"type":"text","color":"#131722","fontSize":11.5,"font":"Liberation Sans","align":"center","baseline":"middle"},
  "encoding":{"x":{"datum":424.8,"title":"TradingView","scale":{"domain":[-0.33,418.2],"nice":false,"zero":false}},"y":{"datum":20599,"title":null,"scale":{"domain":[15019,20746],"nice":false,"zero":false}},"text":{"field":"t"}}},
 {"data":{"values":[{"t":"Bitcoin CME Futures, 1h, CME"}]},
  "mark":{"type":"text","color":"#131722","fontSize":12,"fontWeight":"bold","font":"Liberation Sans","align":"left","baseline":"middle"},
  "encoding":{"x":{"datum":0.9,"title":"TradingView","scale":{"domain":[-0.33,418.2],"nice":false,"zero":false}},"y":{"datum":20590,"title":null,"scale":{"domain":[15019,20746],"nice":false,"zero":false}},"text":{"field":"t"}}},
 {"data":{"values":[{"t":"Vol"}]},
  "mark":{"type":"text","color":"#131722","fontSize":12,"font":"Liberation Sans","align":"left","baseline":"middle"},
  "encoding":{"x":{"datum":0.9,"title":"TradingView","scale":{"domain":[-0.33,418.2],"nice":false,"zero":false}},"y":{"datum":20443,"title":null,"scale":{"domain":[15019,20746],"nice":false,"zero":false}},"text":{"field":"t"}}},
 {"data":{"values":[{"t":"Vol"}]},
  "mark":{"type":"text","color":"#131722","fontSize":12,"font":"Liberation Sans","align":"left","baseline":"middle"},
  "encoding":{"x":{"datum":0.9,"title":"TradingView","scale":{"domain":[-0.33,418.2],"nice":false,"zero":false}},"y":{"datum":20296,"title":null,"scale":{"domain":[15019,20746],"nice":false,"zero":false}},"text":{"field":"t"}}},
 {"data":{"values":[{"t":"☁"}]},
  "mark":{"type":"text","color":"#2196f3","fontSize":24,"font":"DejaVu Sans","align":"center","baseline":"middle"},
  "encoding":{"x":{"datum":3.0,"title":"TradingView","scale":{"domain":[-0.33,418.2],"nice":false,"zero":false}},"y":{"datum":14600,"title":null,"scale":{"domain":[15019,20746],"nice":false,"zero":false}},"text":{"field":"t"}}},
 {"data":{"values":[{"a":1}]},
  "mark":{"type":"rule","color":"#e0e3eb","strokeWidth":1},
  "encoding":{"x":{"datum":-0.33,"title":"TradingView","scale":{"domain":[-0.33,418.2],"nice":false,"zero":false}},"x2":{"datum":431.2},"y":{"datum":20746,"title":null,"scale":{"domain":[15019,20746],"nice":false,"zero":false}}}},
 {"data":{"values":[{"a":1}]},
  "mark":{"type":"rule","color":"#e0e3eb","strokeWidth":1},
  "encoding":{"x":{"datum":-0.33,"title":"TradingView","scale":{"domain":[-0.33,418.2],"nice":false,"zero":false}},"x2":{"datum":431.2},"y":{"datum":14751,"title":null,"scale":{"domain":[15019,20746],"nice":false,"zero":false}}}},
 {"data":{"values":[{"a":1}]},
  "mark":{"type":"rule","color":"#e0e3eb","strokeWidth":1},
  "encoding":{"x":{"datum":418.2,"title":"TradingView","scale":{"domain":[-0.33,418.2],"nice":false,"zero":false}},"x2":{"datum":431.2},"y":{"datum":15019,"title":null,"scale":{"domain":[15019,20746],"nice":false,"zero":false}}}},
 {"data":{"values":[{"a":1}]},
  "mark":{"type":"rule","color":"#e0e3eb","strokeWidth":1},
  "encoding":{"x":{"datum":-0.33,"title":"TradingView","scale":{"domain":[-0.33,418.2],"nice":false,"zero":false}},"y":{"datum":20746,"title":null,"scale":{"domain":[15019,20746],"nice":false,"zero":false}},"y2":{"datum":14751}}},
 {"data":{"values":[{"a":1}]},
  "mark":{"type":"rule","color":"#e0e3eb","strokeWidth":1},
  "encoding":{"x":{"datum":418.2,"title":"TradingView","scale":{"domain":[-0.33,418.2],"nice":false,"zero":false}},"y":{"datum":20746,"title":null,"scale":{"domain":[15019,20746],"nice":false,"zero":false}},"y2":{"datum":14751}}},
 {"data":{"values":[{"a":1}]},
  "mark":{"type":"rule","color":"#e0e3eb","strokeWidth":1},
  "encoding":{"x":{"datum":431.2,"title":"TradingView","scale":{"domain":[-0.33,418.2],"nice":false,"zero":false}},"y":{"datum":20746,"title":null,"scale":{"domain":[15019,20746],"nice":false,"zero":false}},"y2":{"datum":14751}}}
]}
]
}
